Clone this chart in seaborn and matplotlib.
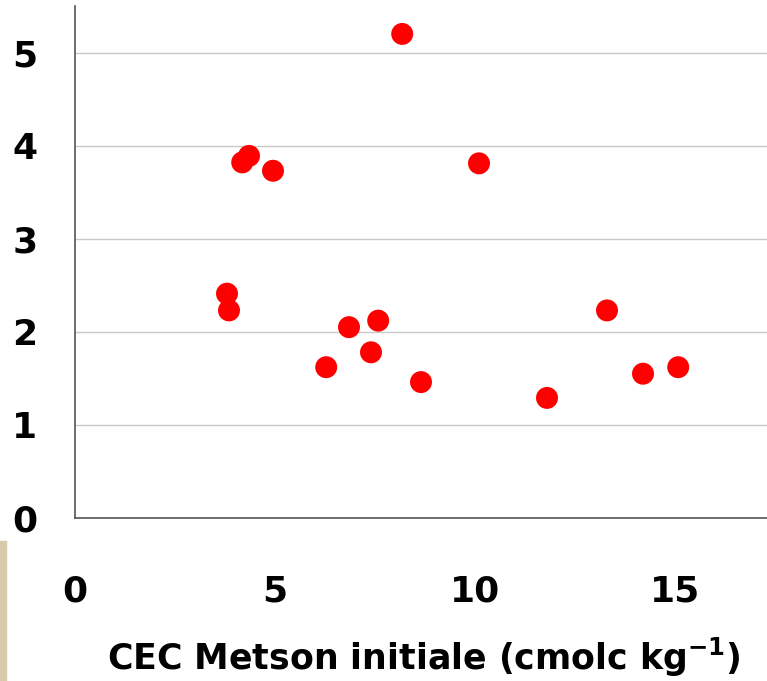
import numpy as np
import pandas as pd
import matplotlib
matplotlib.use("Agg")
import matplotlib.pyplot as plt
import seaborn as sns
from matplotlib.patches import Rectangle

# values
cec_initiale = [8.18, 4.18, 4.35, 4.95, 10.1, 3.80, 3.85, 6.85, 7.58, 7.40,
                6.28, 8.65, 11.8, 13.3, 14.2, 15.08]
y_values = [5.20, 3.82, 3.89, 3.73, 3.81, 2.41, 2.23, 2.05, 2.12, 1.78,
            1.62, 1.46, 1.29, 2.23, 1.55, 1.62]
x_ticks = [0, 5, 10, 15]
y_ticks = [0, 1, 2, 3, 4, 5]

df = pd.DataFrame({"cec": cec_initiale, "val": y_values})

sns.set_style("white")
plt.rcParams['font.family'] = ['DejaVu Sans']
plt.rcParams['font.weight'] = 'bold'

fig = plt.figure(figsize=(7.67, 6.81), dpi=100)
ax = fig.add_axes([75/767, 1-518/681, 1-75/767, (518-6)/681])

# beige scrap from the slide background, bottom left
fig.patches.append(Rectangle((0, 0), 6/767, 140/681, transform=fig.transFigure,
                             color="#d9cba9", zorder=0))

sns.scatterplot(data=df, x="cec", y="val", color="#ff0000", s=250,
                edgecolor="none", ax=ax, zorder=3)

ax.set_xlim(0, 17.3)
ax.set_ylim(0, 5.5)
ax.set_xticks(x_ticks)
ax.set_yticks(y_ticks)
ax.yaxis.grid(True, color="#c8c8c8", linewidth=1)
ax.set_axisbelow(True)

for s in ["top", "right"]:
    ax.spines[s].set_visible(False)
for s in ["left", "bottom"]:
    ax.spines[s].set_color("#555555")
    ax.spines[s].set_linewidth(1.2)

ax.tick_params(axis="both", direction="out", length=11, width=1.2,
               colors="#555555", labelcolor="black", labelsize=26)
ax.tick_params(axis="x", pad=30)
ax.tick_params(axis="y", pad=16)
for lab in ax.get_xticklabels() + ax.get_yticklabels():
    lab.set_fontweight("bold")

ax.set_ylabel("")
ax.set_xlabel("CEC Metson initiale (cmolc kg$^{\\mathbf{-1}}$)", fontsize=25,
              fontweight="bold", color="black")
ax.xaxis.label.set_va("baseline")
ax.xaxis.set_label_coords((424-75)/(767-75), -(670-518)/(518-6))

plt.savefig("out.png", dpi=100)
plt.close()
